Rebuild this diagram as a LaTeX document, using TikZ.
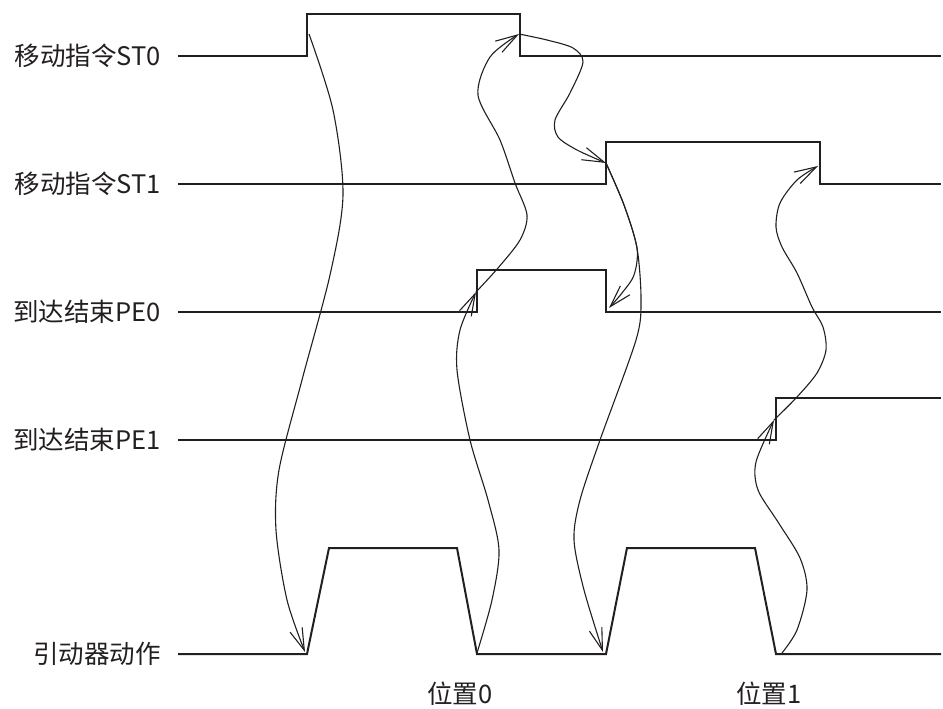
\documentclass[tikz,border=0pt]{standalone}
\usepackage{fontspec}
\setmainfont{Noto Sans CJK SC}
\usetikzlibrary{arrows.meta}
\definecolor{ink}{HTML}{231F20}
\begin{document}
\begin{tikzpicture}[x=1pt,y=-1pt,
  sig/.style={draw=ink, line width=2pt, line join=miter},
  arr/.style={draw=ink, line width=1.1pt, -{Straight Barb[length=22pt,width=13pt,line width=1.1pt]}},
  lbl/.style={font=\fontsize{25.5}{30}\selectfont, text=ink, inner sep=0pt, anchor=east},
  poslbl/.style={font=\fontsize{25.5}{30}\selectfont, text=ink, inner sep=0pt}]
\useasboundingbox (0,0) rectangle (943,709);

% labels
\node[lbl] (l0) at (161,56) {移动指令ST0};
\node[lbl] (l1) at (161,184) {移动指令ST1};
\node[lbl] (l2) at (161,312) {到达结束PE0};
\node[lbl] (l3) at (161,440) {到达结束PE1};
\node[lbl] (l4) at (161,654) {引动器动作};
\node[poslbl] (p0) at (460,694) {位置0};
\node[poslbl] (p1) at (769,694) {位置1};

% waveforms
\draw[sig] (178,56) -- (307,56) -- (307,14) -- (520,14) -- (520,56) -- (941,56);
\draw[sig] (178,184) -- (606,184) -- (606,142) -- (820,142) -- (820,184) -- (941,184);
\draw[sig] (178,312) -- (477,312) -- (477,270) -- (606,270) -- (606,312) -- (941,312);
\draw[sig] (178,440) -- (776,440) -- (776,398) -- (941,398);
\draw[sig] (178,654) -- (307,654) -- (329,548) -- (457,548) -- (477,654) -- (606,654)
  -- (627,548) -- (755,548) -- (776,654) -- (941,654);

% event points
\coordinate (st0r) at (309,34);
\coordinate (st0f) at (519,34);
\coordinate (st1r) at (606,163);
\coordinate (st1f) at (818,166);
\coordinate (pe0r) at (476,292);
\coordinate (pe0f) at (609,308);
\coordinate (pe1r) at (774,420);
\coordinate (a1) at (305,652);
\coordinate (a2) at (477,653);
\coordinate (a3) at (603,652);
\coordinate (a4) at (782,653);

% causal arrows
\draw[arr] plot[smooth] coordinates {(st0r) (333,110) (343,195) (330,275) (302,380) (279,470) (276,530) (287,600) (a1)};
\draw[arr] plot[smooth] coordinates {(a2) (492,600) (499,550) (488,500) (470,440) (457,370) (460,330) (pe0r)};
\draw[arr] plot[smooth] coordinates {(pe0r) (498,268) (520,240) (527,215) (515,183) (500,140) (478,95) (490,57) (st0f)};
\draw[arr] plot[smooth] coordinates {(st0f) (547,40) (573,48) (583,62) (570,93) (555,120) (558,137) (577,150) (st1r)};
\draw[arr] plot[smooth] coordinates {(st1r) (624,205) (637,248) (634,275) (622,293) (pe0f)};
\draw[arr] plot[smooth] coordinates {(st1r) (624,205) (637,248) (641,300) (636,340) (600,440) (580,500) (574,540) (584,590) (a3)};
\draw[arr] plot[smooth] coordinates {(a4) (797,630) (807,590) (800,558) (778,522) (758,490) (756,462) (pe1r)};
\draw[arr] plot[smooth] coordinates {(pe1r) (797,397) (817,373) (826,350) (823,327) (812,307) (797,273) (782,247) (776,227) (780,203) (797,180) (st1f)};
\end{tikzpicture}
\end{document}
